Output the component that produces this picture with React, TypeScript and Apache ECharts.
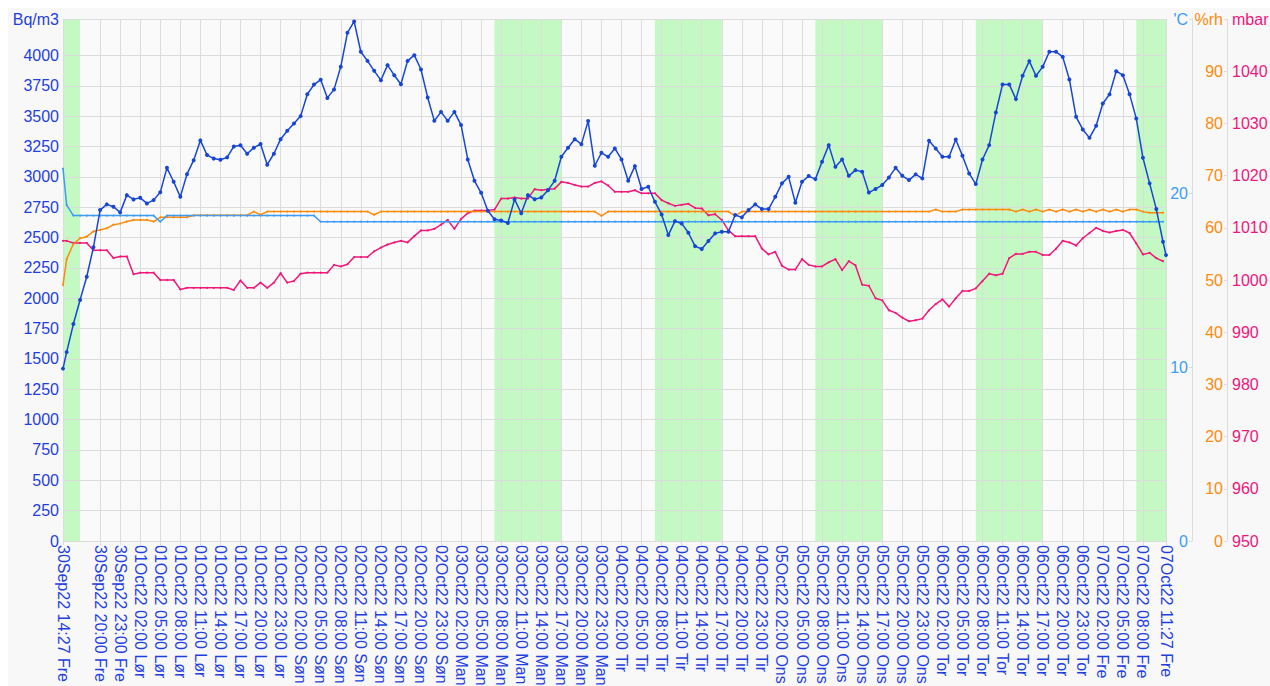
import React, { useEffect, useRef } from 'react';
import * as echarts from 'echarts';

// x values are hours since 30Sep22 00:00
const START = 14.45; // 30Sep22 14:27
const END = 179.45; // 07Oct22 11:27
const dayDates = ['30Sep22', '01Oct22', '02Oct22', '03Oct22', '04Oct22', '05Oct22', '06Oct22', '07Oct22'];
const dayNames = ['Fre', 'Lør', 'Søn', 'Man', 'Tir', 'Ons', 'Tor', 'Fre'];

// radon samples: 14:27, every whole hour, 11:27; climate samples stop at 11:00
const sampleHours = [START, ...Array.from({ length: 165 }, (_, i) => 15 + i), END];
const climateHours = [START, ...Array.from({ length: 165 }, (_, i) => 15 + i)];
const tickHours = [START, ...Array.from({ length: 53 }, (_, i) => 20 + 3 * i), END];

const workPeriods = [
  [14.45, 17], [79, 89], [103, 113], [127, 137], [151, 161], [175, 179.45],
];

const radon = [
  1420, 1556, 1787, 1985, 2177, 2419, 2726, 2773, 2753, 2707, 2849, 2814, 2827, 2781, 2808, 2872,
  3074, 2959, 2835, 3022, 3137, 3300, 3180, 3150, 3140, 3160, 3250, 3260, 3190, 3240, 3270, 3100,
  3190, 3310, 3380, 3440, 3500, 3680, 3760, 3800, 3650, 3720, 3906, 4186, 4280, 4030, 3955, 3873,
  3796, 3920, 3837, 3763, 3955, 4002, 3884, 3654, 3461, 3535, 3461, 3535, 3426, 3143, 2967, 2868,
  2720, 2650, 2640, 2620, 2814, 2700, 2849, 2816, 2830, 2890, 2967, 3165, 3239, 3310, 3269, 3459,
  3091, 3198, 3165, 3234, 3143, 2967, 3088, 2899, 2918, 2794, 2690, 2520, 2635, 2616, 2539, 2429,
  2405, 2471, 2534, 2547, 2547, 2685, 2666, 2726, 2773, 2734, 2734, 2835, 2946, 3000, 2786, 2959,
  3006, 2981, 3124, 3261, 3082, 3143, 3008, 3055, 3041, 2870, 2900, 2932, 2995, 3074, 3008, 2973,
  3020, 2987, 3297, 3234, 3165, 3165, 3308, 3173, 3028, 2940, 3143, 3261, 3530, 3761, 3761, 3640,
  3832, 3953, 3832, 3906, 4030, 4030, 3988, 3802, 3494, 3390, 3321, 3420, 3604, 3679, 3870, 3837,
  3681, 3481, 3157, 2946, 2734, 2465, 2355,
];

const temperature = [
  21.4, 19.3, 18.7, 18.7, 18.7, 18.7, 18.7, 18.7, 18.7, 18.7, 18.7, 18.7, 18.7, 18.7, 18.7, 18.35,
  18.7, 18.7, 18.7, 18.7, 18.7, 18.7, 18.7, 18.7, 18.7, 18.7, 18.7, 18.7, 18.7, 18.7, 18.7, 18.7,
  18.7, 18.7, 18.7, 18.7, 18.7, 18.7, 18.7, 18.35, 18.35, 18.35, 18.35, 18.35, 18.35, 18.35, 18.35, 18.35,
  18.35, 18.35, 18.35, 18.35, 18.35, 18.35, 18.35, 18.35, 18.35, 18.35, 18.35, 18.35, 18.35, 18.35, 18.35, 18.35,
  18.35, 18.35, 18.35, 18.35, 18.35, 18.35, 18.35, 18.35, 18.35, 18.35, 18.35, 18.35, 18.35, 18.35, 18.35, 18.35,
  18.35, 18.35, 18.35, 18.35, 18.35, 18.35, 18.35, 18.35, 18.35, 18.35, 18.35, 18.35, 18.35, 18.35, 18.35, 18.35,
  18.35, 18.35, 18.35, 18.35, 18.35, 18.35, 18.35, 18.35, 18.35, 18.35, 18.35, 18.35, 18.35, 18.35, 18.35, 18.35,
  18.35, 18.35, 18.35, 18.35, 18.35, 18.35, 18.35, 18.35, 18.35, 18.35, 18.35, 18.35, 18.35, 18.35, 18.35, 18.35,
  18.35, 18.35, 18.35, 18.35, 18.35, 18.35, 18.35, 18.35, 18.35, 18.35, 18.35, 18.35, 18.35, 18.35, 18.35, 18.35,
  18.35, 18.35, 18.35, 18.35, 18.35, 18.35, 18.35, 18.35, 18.35, 18.35, 18.35, 18.35, 18.35, 18.35, 18.35, 18.35,
  18.35, 18.35, 18.35, 18.35, 18.35, 18.35,
];

const humidity = [
  49.0, 54.0, 56.9, 58.0, 58.3, 59.3, 59.6, 59.9, 60.6, 60.8, 61.2, 61.5, 61.5, 61.5, 61.2, 62.0,
  62.0, 62.0, 62.0, 62.0, 62.4, 62.4, 62.4, 62.4, 62.4, 62.4, 62.4, 62.4, 62.4, 63.1, 62.5, 63.1,
  63.1, 63.1, 63.1, 63.1, 63.1, 63.1, 63.1, 63.1, 63.1, 63.1, 63.1, 63.1, 63.1, 63.1, 63.1, 62.5,
  63.1, 63.1, 63.1, 63.1, 63.1, 63.1, 63.1, 63.1, 63.1, 63.1, 63.1, 63.1, 63.1, 63.1, 63.1, 63.1,
  63.1, 63.1, 63.1, 63.1, 63.1, 63.1, 63.1, 63.1, 63.1, 63.1, 63.1, 63.1, 63.1, 63.1, 63.1, 63.1,
  63.1, 62.3, 63.1, 63.1, 63.1, 63.1, 63.1, 63.1, 63.1, 63.1, 63.1, 63.1, 63.1, 63.1, 63.1, 63.1,
  63.1, 63.1, 63.1, 63.1, 63.1, 62.3, 63.1, 63.1, 63.1, 63.1, 63.1, 63.1, 63.1, 63.1, 63.1, 63.1,
  63.1, 63.1, 63.1, 63.1, 63.1, 63.1, 63.1, 63.1, 63.1, 63.1, 63.1, 63.1, 63.1, 63.1, 63.1, 63.1,
  63.1, 63.1, 63.1, 63.5, 63.1, 63.1, 63.1, 63.5, 63.5, 63.5, 63.5, 63.5, 63.5, 63.5, 63.5, 63.1,
  63.5, 63.1, 63.5, 63.1, 63.5, 63.1, 63.5, 63.1, 63.5, 63.1, 63.5, 63.1, 63.5, 63.1, 63.5, 63.1,
  63.5, 63.5, 63.1, 62.9, 62.9, 62.9,
];

const pressure = [
  1007.5, 1007.5, 1007.1, 1007.1, 1007.1, 1005.7, 1005.7, 1005.7, 1004.2, 1004.5, 1004.5, 1001.1, 1001.4, 1001.4, 1001.4, 1000.0,
  1000.0, 1000.0, 998.2, 998.5, 998.5, 998.5, 998.5, 998.5, 998.5, 998.5, 998.1, 999.9, 998.5, 998.5, 999.5, 998.5,
  999.5, 1001.3, 999.5, 999.8, 1001.2, 1001.4, 1001.4, 1001.4, 1001.4, 1002.9, 1002.6, 1003.0, 1004.4, 1004.4, 1004.4, 1005.5,
  1006.2, 1006.8, 1007.2, 1007.5, 1007.2, 1008.4, 1009.5, 1009.5, 1009.8, 1010.6, 1011.5, 1009.8, 1011.7, 1012.8, 1013.3, 1013.3,
  1013.3, 1013.5, 1015.6, 1015.6, 1015.8, 1015.6, 1015.6, 1017.4, 1017.2, 1017.4, 1017.5, 1018.8, 1018.6, 1018.2, 1017.9, 1017.9,
  1018.6, 1018.9, 1018.1, 1016.9, 1016.9, 1016.9, 1017.2, 1016.6, 1016.6, 1016.6, 1015.3, 1014.7, 1014.2, 1014.4, 1014.6, 1013.8,
  1013.7, 1012.4, 1012.6, 1011.5, 1009.5, 1008.4, 1008.4, 1008.4, 1008.4, 1006.0, 1004.9, 1005.4, 1002.7, 1002.0, 1002.0, 1004.0,
  1002.9, 1002.6, 1002.6, 1003.4, 1004.0, 1001.9, 1003.6, 1002.8, 999.1, 998.9, 996.5, 996.1, 994.2, 993.7, 992.8, 992.1,
  992.3, 992.6, 994.2, 995.4, 996.3, 994.9, 996.5, 997.9, 997.9, 998.4, 999.8, 1001.2, 1000.9, 1001.2, 1004.2, 1005.0,
  1005.0, 1005.4, 1005.4, 1004.8, 1004.8, 1006.0, 1007.5, 1007.2, 1006.6, 1008.0, 1009.0, 1010.0, 1009.4, 1009.1, 1009.4, 1009.6,
  1009.0, 1007.0, 1004.9, 1005.2, 1004.2, 1003.6,
];

const C_RADON = '#1746d6';
const C_LABEL = '#1f3fe0';
const C_TEMP = '#3d9df5';
const C_HUM = '#ff8a0a';
const C_PRES = '#f2157a';
const C_GRID = '#dcdcdc';
const FONT = "'Liberation Sans', Arial, sans-serif";

function fmtHour(v: number): string {
  const d = Math.floor(v / 24 + 1e-9);
  const mins = Math.round((v - d * 24) * 60);
  const hh = String(Math.floor(mins / 60)).padStart(2, '0');
  const mm = String(mins % 60).padStart(2, '0');
  return `${dayDates[d]} ${hh}:${mm} ${dayNames[d]}`;
}

const pairs = (hours: number[], vals: number[]) => hours.map((h, i) => [h, vals[i]]);

export default function App() {
  const ref = useRef<HTMLDivElement>(null);
  useEffect(() => {
    if (!ref.current) return;
    const chart = echarts.init(ref.current, undefined, { renderer: 'svg' });
    const leftGridColors = [...Array(17).fill(C_GRID), 'rgba(0,0,0,0)'];
    const rightAxisBase = {
      type: 'value' as const,
      position: 'right' as const,
      nameLocation: 'end' as const,
      nameGap: 0,
      splitLine: { show: false },
      z: 2,
    };
    chart.setOption({
      animation: false,
      backgroundColor: '#f8f8f8',
      textStyle: { fontFamily: FONT },
      grid: {
        left: 55,
        right: 104,
        top: 11,
        bottom: 145,
        containLabel: false,
        outerBoundsMode: 'none',
        show: true,
        backgroundColor: '#fafafa',
        borderWidth: 0,
      },
      xAxis: {
        type: 'value',
        min: START,
        max: END,
        z: 2,
        axisLine: { show: true, lineStyle: { color: C_GRID } },
        axisTick: { show: true, customValues: tickHours, length: 4, lineStyle: { color: C_GRID } },
        axisLabel: {
          customValues: tickHours,
          formatter: (v: number) => fmtHour(v),
          rotate: -90,
          margin: 4,
          color: C_LABEL,
          fontSize: 16,
          fontFamily: FONT,
        },
        splitLine: { show: true, lineStyle: { color: C_GRID } },
      },
      yAxis: [
        {
          type: 'value',
          position: 'left',
          min: 0,
          max: 4300,
          interval: 250,
          z: 2,
          name: 'Bq/m3',
          nameLocation: 'end',
          nameGap: 0,
          nameTextStyle: { color: C_LABEL, fontSize: 16, fontFamily: FONT, align: 'right', verticalAlign: 'middle', padding: [0, 4, 0, 0] },
          axisLine: { show: true, lineStyle: { color: C_GRID } },
          axisTick: { show: false },
          axisLabel: { color: C_LABEL, fontSize: 16, fontFamily: FONT, margin: 4, formatter: (v: number) => (v <= 4000 ? String(v) : '') },
          splitLine: { show: true, lineStyle: { color: leftGridColors } },
        },
        {
          ...rightAxisBase,
          offset: 26,
          min: 0,
          max: 30,
          interval: 10,
          name: "'C",
          nameTextStyle: { color: C_TEMP, fontSize: 16, fontFamily: FONT, align: 'right', verticalAlign: 'middle', padding: [0, 4, 0, 0] },
          axisLine: { show: true, lineStyle: { color: C_GRID } },
          axisTick: { show: true, inside: true, length: 3, lineStyle: { color: C_GRID } },
          axisLabel: { inside: true, margin: 4, color: C_TEMP, fontSize: 16, fontFamily: FONT, formatter: (v: number) => (v < 30 ? String(v) : '') },
        },
        {
          ...rightAxisBase,
          offset: 61,
          min: 0,
          max: 100,
          interval: 10,
          name: '%rh',
          nameTextStyle: { color: C_HUM, fontSize: 16, fontFamily: FONT, align: 'right', verticalAlign: 'middle', padding: [0, 4, 0, 0] },
          axisLine: { show: true, lineStyle: { color: C_GRID } },
          axisTick: { show: true, inside: true, length: 3, lineStyle: { color: C_GRID } },
          axisLabel: { inside: true, margin: 4, color: C_HUM, fontSize: 16, fontFamily: FONT, formatter: (v: number) => (v < 100 ? String(v) : '') },
        },
        {
          ...rightAxisBase,
          offset: 61,
          min: 950,
          max: 1050,
          interval: 10,
          name: 'mbar',
          nameTextStyle: { color: C_PRES, fontSize: 16, fontFamily: FONT, align: 'left', verticalAlign: 'middle', padding: [0, 0, 0, 5] },
          axisLine: { show: false },
          axisTick: { show: false },
          axisLabel: { margin: 5, color: C_PRES, fontSize: 16, fontFamily: FONT, formatter: (v: number) => (v < 1050 ? String(v) : '') },
        },
      ],
      series: [
        {
          name: 'mbar',
          type: 'line',
          yAxisIndex: 3,
          data: pairs(climateHours, pressure),
          symbol: 'circle',
          symbolSize: 2,
          lineStyle: { width: 1.5, color: C_PRES },
          itemStyle: { color: C_PRES },
          z: 3,
          markArea: {
            silent: true,
            z: 1,
            itemStyle: { color: '#c4f9c4' },
            data: workPeriods.map(([a, b]) => [{ xAxis: a }, { xAxis: b }]),
          },
        },
        {
          name: '%rh',
          type: 'line',
          yAxisIndex: 2,
          data: pairs(climateHours, humidity),
          symbol: 'circle',
          symbolSize: 2,
          lineStyle: { width: 1.5, color: C_HUM },
          itemStyle: { color: C_HUM },
          z: 3,
        },
        {
          name: "'C",
          type: 'line',
          yAxisIndex: 1,
          data: pairs(climateHours, temperature),
          symbol: 'circle',
          symbolSize: 2,
          lineStyle: { width: 1.5, color: C_TEMP },
          itemStyle: { color: C_TEMP },
          z: 3,
        },
        {
          name: 'Bq/m3',
          type: 'line',
          yAxisIndex: 0,
          data: pairs(sampleHours, radon),
          symbol: 'circle',
          symbolSize: 4,
          showSymbol: true,
          lineStyle: { width: 1.5, color: C_RADON },
          itemStyle: { color: C_RADON },
          z: 4,
        },
      ],
    });
    return () => chart.dispose();
  }, []);
  return (
    <div
      ref={ref}
      style={{ position: 'absolute', left: 8, top: 8, width: 1262, height: 678 }}
    />
  );
}
